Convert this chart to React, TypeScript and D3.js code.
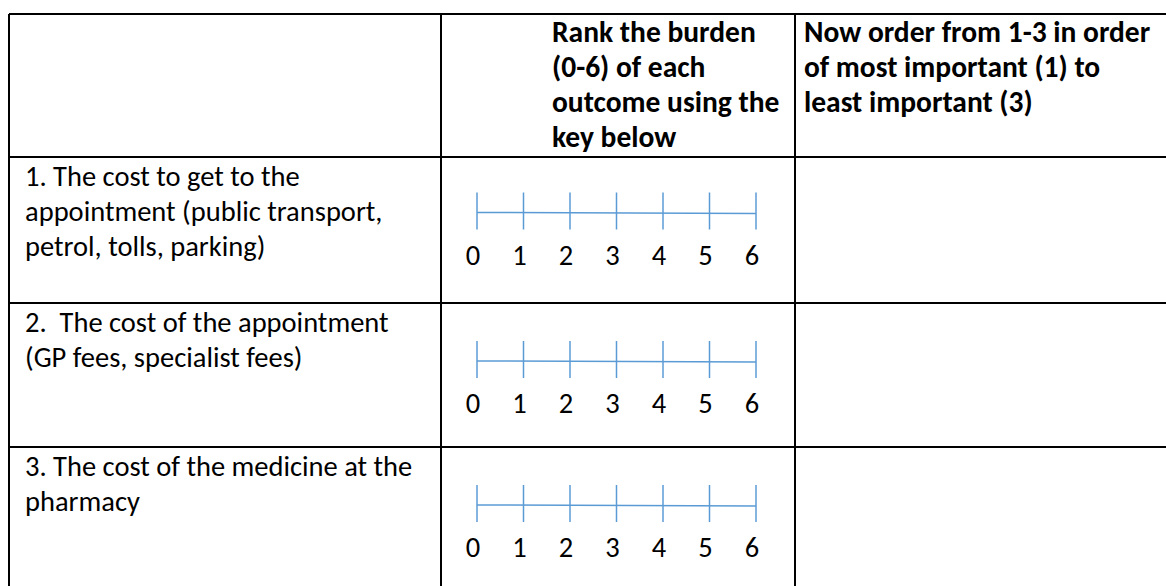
import * as d3 from 'd3'

// header cell text, one array per column (first column is empty)
const headerCol1: string[] = []
const headerCol2 = ['Rank the burden', '(0-6) of each', 'outcome using the', 'key below']
const headerCol3 = ['Now order from 1-3 in order', 'of most important (1) to', 'least important (3)']

// outcome rows
const outcome1 = ['1. The cost to get to the', 'appointment (public transport,', 'petrol, tolls, parking)']
const outcome2 = ['2.  The cost of the appointment', '(GP fees, specialist fees)']
const outcome3 = ['3. The cost of the medicine at the', 'pharmacy']
const outcomes = [outcome1, outcome2, outcome3]

// burden key 0-6
const burdenTicks = [0, 1, 2, 3, 4, 5, 6]

const W = 1166
const H = 586
const colX = [9, 441, 795, 1170]
const rowY = [14, 157, 303, 447, 592]
const lineH = 35
const font = 'Carlito, Calibri, Lato, sans-serif'
const fs = 28.5
const fsHead = 29.5
const blue = '#5b9bd5'

export default function App() {
  const x = d3
    .scaleLinear()
    .domain(d3.extent(burdenTicks) as [number, number])
    .range([colX[1] + 36, colX[1] + 315])

  const headers = [headerCol1, headerCol2, headerCol3]
  const headerTextX = [colX[0] + 16, colX[1] + 111, colX[2] + 9]

  return (
    <div style={{ position: 'absolute', left: 0, top: 0 }}>
      <svg width={W} height={H} style={{ display: 'block', background: '#fff' }}>
        <g fontFamily={font} fontSize={fs} fill="#000">
          {headers.map((lines, c) => (
            <g key={c} fontWeight="bold" fontSize={fsHead}>
              {lines.map((t, i) => (
                <text key={i} x={headerTextX[c]} y={rowY[0] + 28 + i * lineH}>
                  {t}
                </text>
              ))}
            </g>
          ))}

          {outcomes.map((lines, r) => {
            const top = rowY[r + 1]
            const axisY = top + (r === 0 ? 55.5 : 58)
            return (
              <g key={r}>
                {lines.map((t, i) => (
                  <text
                    key={i}
                    x={colX[0] + 16}
                    y={top + 29 + i * lineH}
                    xmlSpace="preserve"
                    style={{ whiteSpace: 'pre' }}
                  >
                    {t}
                  </text>
                ))}
                <line
                  x1={x(0)}
                  x2={x(6)}
                  y1={axisY}
                  y2={axisY + 1}
                  stroke={blue}
                  strokeWidth={1.5}
                />
                {burdenTicks.map((v) => (
                  <g key={v}>
                    <line
                      x1={x(v)}
                      x2={x(v)}
                      y1={axisY - 20}
                      y2={axisY + 17}
                      stroke={blue}
                      strokeWidth={1.5}
                    />
                    <text x={x(v) - 4} y={axisY + 52} textAnchor="middle">
                      {v}
                    </text>
                  </g>
                ))}
              </g>
            )
          })}
        </g>

        <g stroke="#000" strokeWidth={2}>
          {rowY.map((y) => (
            <line key={y} x1={colX[0]} x2={colX[3]} y1={y} y2={y} />
          ))}
          {colX.map((cx) => (
            <line key={cx} x1={cx} x2={cx} y1={rowY[0]} y2={rowY[4]} />
          ))}
        </g>
      </svg>
    </div>
  )
}
